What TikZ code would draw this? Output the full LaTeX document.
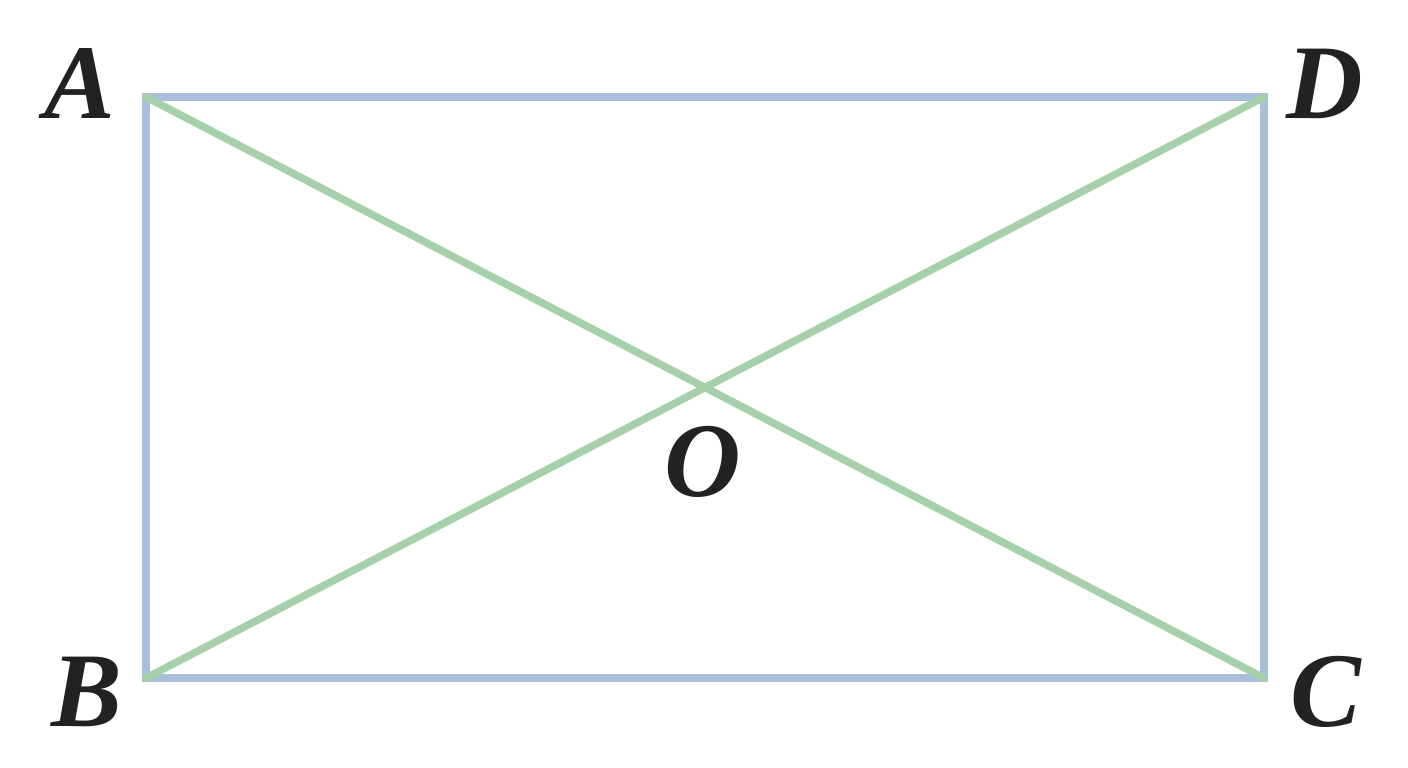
\documentclass[tikz,border=0pt]{standalone}
\usepackage{fontspec}
\setmainfont{Liberation Serif}
\definecolor{sideblue}{HTML}{A8BEDA}
\definecolor{diaggreen}{HTML}{A6D0AA}
\definecolor{labelink}{HTML}{222222}
\begin{document}
\begin{tikzpicture}[x=1pt,y=-1pt,
  side/.style={draw=sideblue,line width=7.5pt,line cap=round},
  diag/.style={draw=diaggreen,line width=7.5pt,line cap=round},
  lbl/.style={text=labelink,font=\fontsize{106}{110}\selectfont\itshape\bfseries,inner sep=0pt}]
\useasboundingbox (0,0) rectangle (1408,768);
\coordinate (A) at (146,97);
\coordinate (D) at (1264,97);
\coordinate (B) at (146,678);
\coordinate (C) at (1264,678);
\draw[side] (A) -- (D) -- (C) -- (B) -- cycle;
\draw[diag] (A) -- (C);
\draw[diag] (B) -- (D);
\coordinate (O) at (705,387.5);
\node[lbl] (lA) at (80,84) {A};
\node[lbl] (lD) at (1325,84) {D};
\node[lbl] (lB) at (87,692) {B};
\node[lbl] (lC) at (1326,692) {C};
\node[lbl] (lO) at (703,462) {O};
\end{tikzpicture}
\end{document}
